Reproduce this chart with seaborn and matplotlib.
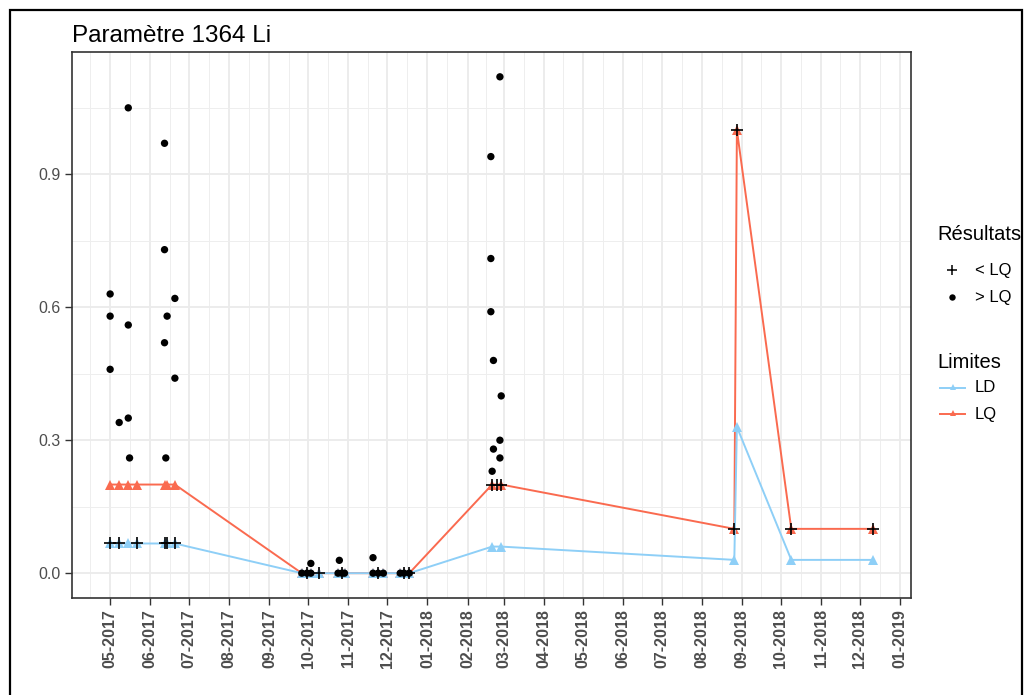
import matplotlib
matplotlib.use("Agg")
import numpy as np
import pandas as pd
import seaborn as sns
import matplotlib.pyplot as plt
import matplotlib.dates as mdates
from matplotlib.lines import Line2D
from matplotlib.patches import Rectangle

# ---------------- data ----------------
lim_dates = ["2017-05-01", "2017-05-08", "2017-05-15", "2017-05-22", "2017-06-12", "2017-06-14", "2017-06-20",
             "2017-09-26", "2017-09-30", "2017-10-03", "2017-10-09", "2017-10-24", "2017-10-27", "2017-10-29",
             "2017-11-20", "2017-11-24", "2017-11-28", "2017-12-11", "2017-12-14", "2017-12-18",
             "2018-02-20", "2018-02-27", "2018-08-26", "2018-08-28", "2018-10-09", "2018-12-11"]
ld_values = [0.067, 0.067, 0.067, 0.067, 0.067, 0.067, 0.067,
             0.0, 0.0, 0.0, 0.0, 0.0, 0.0, 0.0,
             0.0, 0.0, 0.0, 0.0, 0.0, 0.0,
             0.06, 0.06, 0.03, 0.33, 0.03, 0.03]
lq_values = [0.2, 0.2, 0.2, 0.2, 0.2, 0.2, 0.2,
             0.0, 0.0, 0.0, 0.0, 0.0, 0.0, 0.0,
             0.0, 0.0, 0.0, 0.0, 0.0, 0.0,
             0.2, 0.2, 0.1, 1.0, 0.1, 0.1]

sup_dates = ["2017-05-01", "2017-05-01", "2017-05-01", "2017-05-08", "2017-05-15", "2017-05-15", "2017-05-15",
             "2017-05-16", "2017-06-12", "2017-06-12", "2017-06-12", "2017-06-13", "2017-06-14", "2017-06-20",
             "2017-06-20",
             "2017-09-26", "2017-09-30", "2017-10-03", "2017-10-03", "2017-10-24", "2017-10-25", "2017-10-27",
             "2017-10-29", "2017-11-20", "2017-11-20", "2017-11-24", "2017-11-28", "2017-12-11", "2017-12-14",
             "2017-12-18",
             "2018-02-19", "2018-02-19", "2018-02-19", "2018-02-20", "2018-02-21", "2018-02-21", "2018-02-26",
             "2018-02-26", "2018-02-26", "2018-02-27"]
sup_values = [0.63, 0.58, 0.46, 0.34, 1.05, 0.56, 0.35,
              0.26, 0.97, 0.73, 0.52, 0.26, 0.58, 0.62,
              0.44,
              0.0, 0.0, 0.0, 0.022, 0.0, 0.029, 0.0,
              0.0, 0.0, 0.035, 0.0, 0.0, 0.0, 0.0,
              0.0,
              0.94, 0.71, 0.59, 0.23, 0.48, 0.28, 1.12,
              0.26, 0.30, 0.40]

inf_dates = ["2017-05-01", "2017-05-08", "2017-05-22", "2017-06-12", "2017-06-14", "2017-06-20",
             "2017-09-30", "2017-10-09", "2017-10-27", "2017-11-24", "2017-12-14", "2017-12-18",
             "2018-02-20", "2018-02-24", "2018-02-27", "2018-08-26", "2018-08-28", "2018-10-09", "2018-12-11"]
inf_values = [0.067, 0.067, 0.067, 0.067, 0.067, 0.067,
              0.0, 0.0, 0.0, 0.0, 0.0, 0.0,
              0.2, 0.2, 0.2, 0.1, 1.0, 0.1, 0.1]

title = "Paramètre 1364 Li"
ytick_values = [0.0, 0.3, 0.6, 0.9]
ytick_labels = ["0.0", "0.3", "0.6", "0.9"]
limit_names = ["LD", "LQ"]
result_labels = ["< LQ", "> LQ"]
legend_titles = ["Résultats", "Limites"]

# ---------------- frames ----------------
lim_df = pd.DataFrame({
    "date": pd.to_datetime(lim_dates + lim_dates),
    "value": ld_values + lq_values,
    "limite": ["LD"] * len(lim_dates) + ["LQ"] * len(lim_dates),
})
sup_df = pd.DataFrame({"date": pd.to_datetime(sup_dates), "value": sup_values})
inf_df = pd.DataFrame({"date": pd.to_datetime(inf_dates), "value": inf_values})

FONT = "Liberation Sans"
plt.rcParams["font.family"] = [FONT, "DejaVu Sans"]

W, H = 1026, 695
fig = plt.figure(figsize=(W / 100, H / 100), dpi=100)
fig.patch.set_facecolor("white")
ax = fig.add_axes([72 / W, 1 - 598 / H, (911 - 72) / W, (598 - 52) / H])
ax.set_facecolor("white")

colors = {"LD": "#8ECFF7", "LQ": "#FA6A4F"}

sns.lineplot(data=lim_df, x="date", y="value", hue="limite", hue_order=["LQ", "LD"],
             palette=colors, marker="^", markersize=6.5, markeredgewidth=0,
             linewidth=1.4, estimator=None, sort=True, legend=False, ax=ax, zorder=3)
sns.scatterplot(data=sup_df, x="date", y="value", color="black", marker="o", s=28,
                edgecolor="none", legend=False, ax=ax, zorder=4)
sns.scatterplot(data=inf_df, x="date", y="value", color="black", marker="+", s=70,
                linewidth=1.2, legend=False, ax=ax, zorder=5)

# ---------------- axes ----------------
dmin = min(lim_df["date"].min(), sup_df["date"].min(), inf_df["date"].min())
dmax = max(lim_df["date"].max(), sup_df["date"].max(), inf_df["date"].max())
span = dmax - dmin
ax.set_xlim(mdates.date2num(dmin - 0.05 * span), mdates.date2num(dmax + 0.05 * span))
ymax = max(max(sup_values), max(lq_values))
ax.set_ylim(-0.05 * ymax, ymax * 1.05)

majors = pd.date_range("2017-05-01", "2019-01-01", freq="MS")
major_num = mdates.date2num(majors)
minor_num = list((major_num[:-1] + major_num[1:]) / 2)
minor_num = [major_num[0] - (major_num[1] - major_num[0]) / 2] + minor_num
ax.set_xticks(major_num)
ax.set_xticks(minor_num, minor=True)
ax.xaxis.set_major_formatter(mdates.DateFormatter("%m-%Y"))
ax.set_yticks(ytick_values)
ax.set_yticklabels(ytick_labels)
ax.set_yticks([0.15, 0.45, 0.75, 1.05], minor=True)

ax.grid(True, which="major", color="#EBEBEB", linewidth=1.3, zorder=0)
ax.grid(True, which="minor", color="#EEEEEE", linewidth=0.7, zorder=0)
ax.set_axisbelow(True)

ax.tick_params(axis="both", which="major", direction="out", length=5, width=1,
               color="#333333", labelcolor="#4D4D4D", labelsize=11.5)
ax.tick_params(axis="both", which="minor", length=0)
ax.tick_params(axis="x", labelrotation=90, pad=3)
for lab in ax.get_xticklabels():
    lab.set_fontweight("bold")
    lab.set_color("#4D4D4D")
for sp in ax.spines.values():
    sp.set_color("#333333")
    sp.set_linewidth(1.2)
ax.set_xlabel("")
ax.set_ylabel("")

fig.text(72 / W, 1 - 42 / H, title, fontsize=17.5, color="black", ha="left", va="baseline")

# ---------------- legends (drawn in pixel positions) ----------------
def fx(px):
    return px / W


def fy(py):
    return 1 - py / H


fig.text(fx(937), fy(235), legend_titles[0], fontsize=14.5, ha="left", va="center")
fig.add_artist(Line2D([fx(952)], [fy(270)], ls="", marker="+", color="black", ms=7.5, mew=1.1,
                      transform=fig.transFigure))
fig.add_artist(Line2D([fx(952)], [fy(297)], ls="", marker="o", color="black", ms=4.6, mew=0,
                      transform=fig.transFigure))
fig.text(fx(975), fy(270), result_labels[0], fontsize=12, ha="left", va="center")
fig.text(fx(975), fy(297), result_labels[1], fontsize=12, ha="left", va="center")

fig.text(fx(937), fy(362), legend_titles[1], fontsize=14.5, ha="left", va="center")
for name, py in zip(limit_names, [388, 414]):
    fig.add_artist(Line2D([fx(940), fx(965)], [fy(py), fy(py)], color=colors[name], lw=1.4,
                          transform=fig.transFigure))
    fig.add_artist(Line2D([fx(952.5)], [fy(py - 1)], ls="", marker="^", color=colors[name], ms=5, mew=0,
                          transform=fig.transFigure))
    fig.text(fx(975), fy(py), name, fontsize=12, ha="left", va="center")

# outer frame of the picture
fig.add_artist(Rectangle((10 / W, -0.02), (1022 - 10) / W, (H - 10) / H + 0.02,
                         transform=fig.transFigure, fill=False, edgecolor="black",
                         linewidth=1.6, clip_on=False))

fig.savefig("out.png", dpi=100, facecolor="white")
